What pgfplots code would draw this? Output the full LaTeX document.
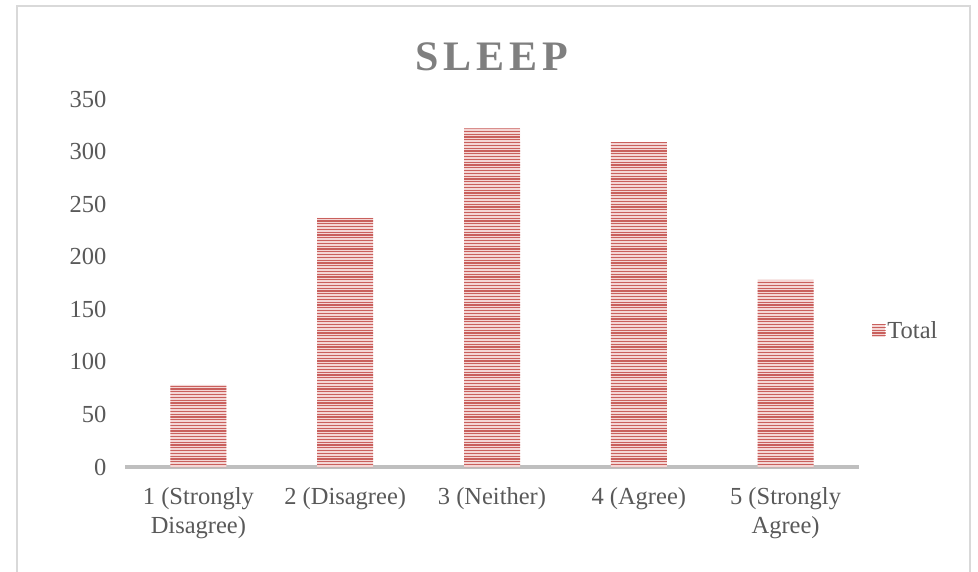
\documentclass[border=0pt]{standalone}
\usepackage{fontspec}
\setmainfont{Liberation Serif}
\newfontfamily\titlefont[LetterSpace=12]{Liberation Serif}
\usepackage{pgfplots}
\pgfplotsset{compat=1.18}
\usetikzlibrary{patterns.meta}
\definecolor{txt}{HTML}{595959}
\definecolor{ttl}{HTML}{7F7F7F}
\definecolor{barred}{HTML}{C9605D}
\definecolor{barpink}{HTML}{F4D6D5}
\definecolor{axisgray}{HTML}{BFBFBF}
\definecolor{framegray}{HTML}{D9D9D9}

\tikzdeclarepattern{
  name=hstripes,
  type=uncolored,
  bounding box={(0pt,-1pt) and (1pt,1.8pt)},
  tile size={(1pt,2.8pt)},
  code={\pgfsetlinewidth{1.2pt}\pgfpathmoveto{\pgfpoint{-0.1pt}{0pt}}\pgfpathlineto{\pgfpoint{1.1pt}{0pt}}\pgfusepath{stroke}}
}

\begin{document}
\begin{tikzpicture}[x=1pt,y=1pt]
\useasboundingbox (0,0) rectangle (978,571);
% chart frame
\draw[framegray, line width=1.5pt] (17,-5) -- (17,565) -- (970,565) -- (970,-5);
% title
\node[text=ttl, font=\titlefont\bfseries\fontsize{42}{48}\selectfont] at (492,514) {SLEEP};
\begin{axis}[
  at={(198.4pt,104pt)}, anchor=origin,
  scale only axis, width=734pt, height=368pt,
  xmin=-0.5, xmax=4.5, ymin=0, ymax=350,
  axis x line*=bottom, axis y line*=left,
  x axis line style={axisgray, line width=3.5pt},
  y axis line style={draw=none},
  xtick={0,1,2,3,4},
  xticklabels={{1 (Strongly\\Disagree)},{2 (Disagree)},{3 (Neither)},{4 (Agree)},{5 (Strongly\\Agree)}},
  ytick={0,50,...,350},
  major tick length=0pt,
  tick style={draw=none},
  /pgf/number format/assume math mode=true,
  ticklabel style={text=txt, font=\fontsize{24.5}{29}\selectfont},
  x tick label style={align=center, yshift=-17pt},
  y tick label style={xshift=-15pt},
  legend style={at={(1.018,0.37)}, anchor=west, draw=none, fill=none,
    font=\fontsize{24.5}{28}\selectfont, text=txt, inner sep=0pt},
  legend image code/.code={\fill[barpink] (0pt,-6.5pt) rectangle (13pt,6.5pt);
    \fill[pattern={hstripes}, pattern color=barred] (0pt,-6.5pt) rectangle (13pt,6.5pt);},
]
\addplot[ybar, bar width=56pt, draw=none, fill=barpink,
  postaction={pattern={hstripes}, pattern color=barred}]
  coordinates {(0,78) (1,237) (2,322) (3,309) (4,178)};
\addlegendentry{Total}
\end{axis}
\end{tikzpicture}
\end{document}
